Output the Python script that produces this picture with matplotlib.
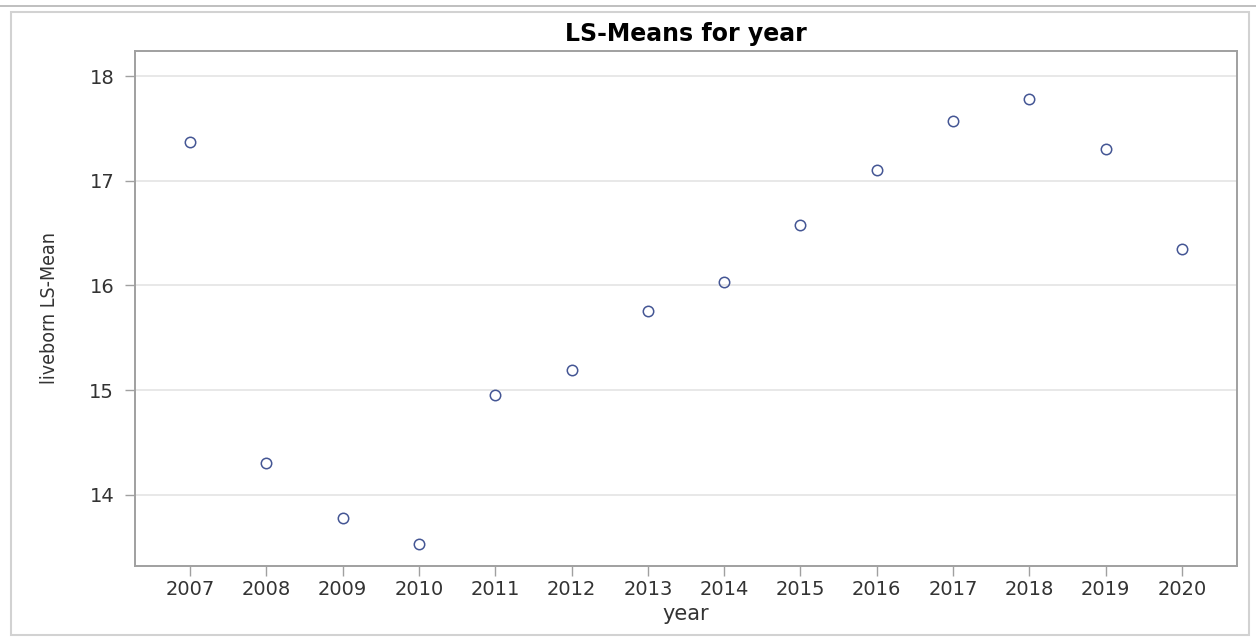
import matplotlib.pyplot as plt
from matplotlib.patches import Rectangle
from matplotlib.lines import Line2D
from matplotlib import font_manager

# LS-means of liveborn by year
years = [2007, 2008, 2009, 2010, 2011, 2012, 2013,
         2014, 2015, 2016, 2017, 2018, 2019, 2020]
lsmeans = [17.37, 14.30, 13.78, 13.53, 14.95, 15.19, 15.76,
           16.03, 16.58, 17.10, 17.57, 17.78, 17.30, 16.35]
yticks = [14, 15, 16, 17, 18]

fig = plt.figure(figsize=(12.56, 6.39), dpi=100)

# page rule and the outer graph border
fig.add_artist(Line2D([0, 1], [1 - 6/639, 1 - 6/639], color='#b4b4b4', lw=1.2))
fig.add_artist(Rectangle((11/1256, 4/639), 1238/1256, 623/639, fill=False,
                         edgecolor='#d2d2d2', lw=1.5))

ax = fig.add_axes([135/1256, 1 - 566/639, 1102/1256, 515/639])

ax.plot(years, lsmeans, linestyle='none', marker='o', markersize=7.5,
        markerfacecolor='none', markeredgecolor='#445694', markeredgewidth=1.1)

ax.set_xlim(years[0] - 0.72, years[-1] + 0.72)
ax.set_ylim(13.32, 18.24)
ax.set_xticks(years)
ax.set_xticklabels([str(y) for y in years])
ax.set_yticks(yticks)

ax.yaxis.grid(True, color='#e4e4e4', lw=1.2)
ax.set_axisbelow(True)
for s in ax.spines.values():
    s.set_color('#a0a0a0')
    s.set_linewidth(1.4)
ax.tick_params(axis='both', direction='out', length=7, width=1, color='#a0a0a0',
               labelsize=14, labelcolor='#333333')
ax.tick_params(axis='x', pad=3)
ax.tick_params(axis='y', pad=8)

# narrow face for the y label if one is around
cond = [f for f in font_manager.fontManager.ttflist
        if 'Narrow' in f.fname or 'Condensed' in f.fname]
cond.sort(key=lambda f: ('Liberation' not in f.fname, 'Bold' in f.fname or 'Oblique' in f.fname or 'Italic' in f.fname))
if cond:
    yfont = font_manager.FontProperties(fname=cond[0].fname, size=14)
else:
    yfont = font_manager.FontProperties(family='DejaVu Sans', size=11.5)

ax.set_xlabel('year', fontsize=15, color='#333333', labelpad=4)
ax.set_ylabel('liveborn LS-Mean', fontproperties=yfont, color='#333333', labelpad=22)
ax.set_title('LS-Means for year', fontsize=17, fontweight='bold', pad=7)

fig.savefig('out.png', dpi=100)
